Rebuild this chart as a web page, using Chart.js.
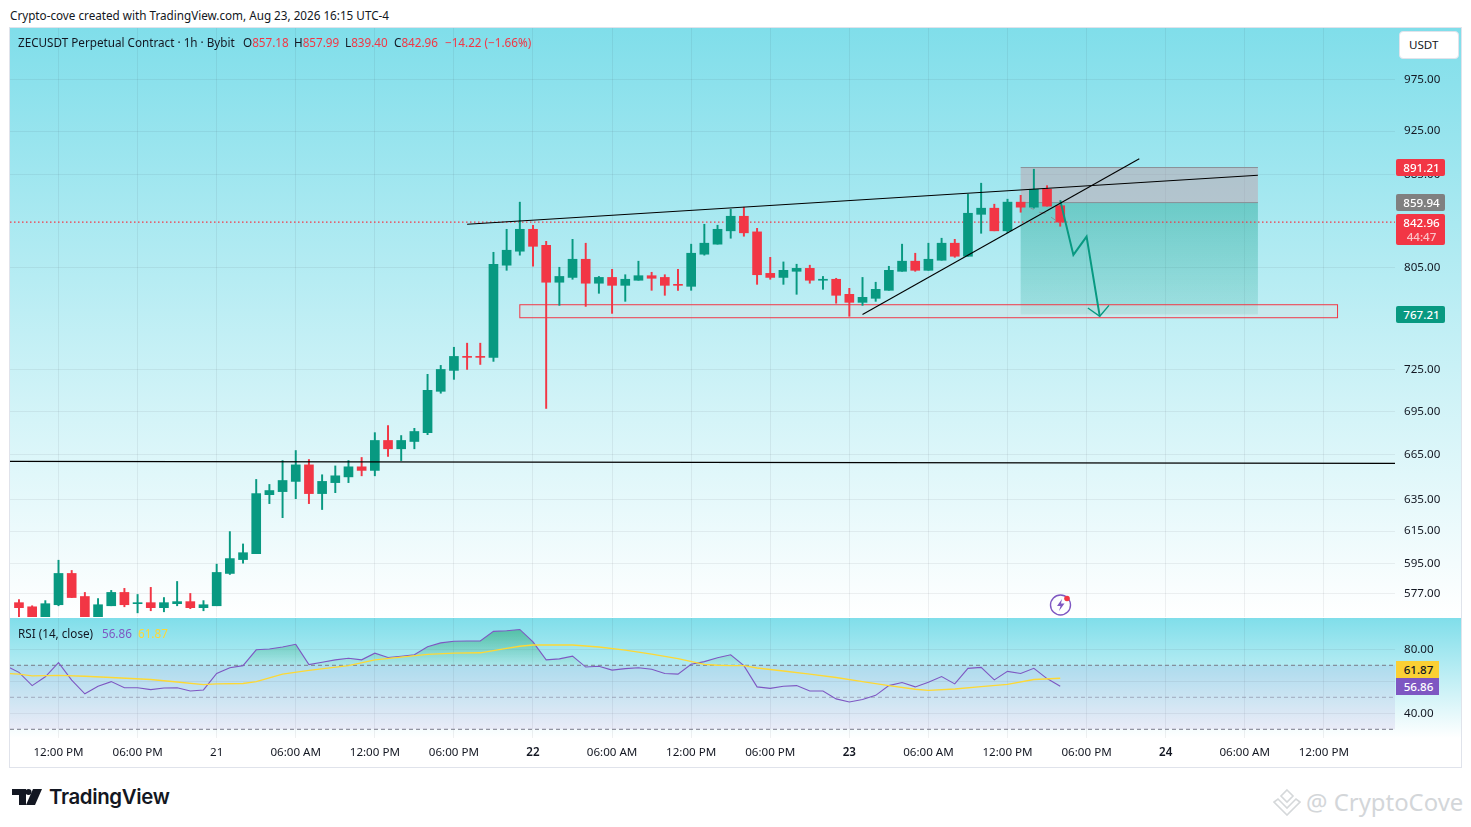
<!DOCTYPE html>
<html>
<head>
<meta charset="utf-8">
<title>ZECUSDT</title>
<script src="https://cdn.jsdelivr.net/npm/chart.js@4/dist/chart.umd.min.js"></script>
<style>
  html, body { margin: 0; background: #fff; }
  body { width: 1471px; height: 827px; position: relative; overflow: hidden; font-family: "Noto Sans", sans-serif; color: #131722; }
  .abs { position: absolute; white-space: nowrap; }
  .txt { font-size: 11.7px; line-height: 16px; }
  #frame { position: absolute; left: 9px; top: 27px; width: 1451px; height: 739px; border: 1px solid #e0e3eb; }
  #mainBg { position: absolute; left: 10px; top: 28px; width: 1451px; height: 589px; background: linear-gradient(#80deea, #fff); }
  #rsiBg { position: absolute; left: 10px; top: 618px; width: 1451px; height: 120px; background: linear-gradient(#80deea, #fff); }
  canvas { position: absolute; left: 10px; }
  #priceChart { top: 28px; }
  #rsiChart { top: 618px; }
  .tag { position: absolute; left: 1396px; width: 47px; padding-left: 2px; text-align: center; color: #fff; font-size: 11.6px; font-weight: 500; border-radius: 2px; line-height: 17px; }
  .red { color: #f23645; }
</style>
</head>
<body>
<div id="frame"></div>
<div id="mainBg"></div>
<div id="rsiBg"></div>
<canvas id="priceChart" width="1451" height="589"></canvas>
<canvas id="rsiChart" width="1451" height="149"></canvas>

<div class="abs txt" style="left:10px;top:7px">Crypto-cove created with TradingView.com, Aug 23, 2026 16:15 UTC-4</div>
<div class="abs txt" style="left:18px;top:34px">ZECUSDT Perpetual Contract · 1h · Bybit</div>
<div class="abs txt" style="left:243px;top:34px">O<span class="red">857.18</span></div>
<div class="abs txt" style="left:294px;top:34px">H<span class="red">857.99</span></div>
<div class="abs txt" style="left:345px;top:34px">L<span class="red">839.40</span></div>
<div class="abs txt" style="left:394px;top:34px">C<span class="red">842.96</span></div>
<div class="abs txt red" style="left:445px;top:34px">−14.22 (−1.66%)</div>
<div class="abs txt" style="left:18px;top:625px">RSI (14, close)</div>
<div class="abs txt" style="left:102px;top:625px;color:#7e57c2">56.86</div>
<div class="abs txt" style="left:138px;top:625px;color:#fdd835">61.87</div>

<div class="abs" style="left:1399px;top:31px;width:49px;padding-left:9px;height:26px;background:#fff;border:1px solid #e0e3eb;border-radius:4px;font-size:11.6px;line-height:26px">USDT</div>

<div class="tag" style="top:159px;background:#f23645">891.21</div>
<div class="tag" style="top:194px;background:#808080">859.94</div>
<div class="tag" style="top:214px;background:#f23645;line-height:14px;padding-top:2px;height:29px">842.96<br><span style="opacity:.7">44:47</span></div>
<div class="tag" style="top:306px;background:#089981">767.21</div>
<div class="tag" style="top:661px;width:41px;background:#fbd034;color:#131722;border-radius:0">61.87</div>
<div class="tag" style="top:678px;width:41px;background:#7e57c2;border-radius:0">56.86</div>

<svg class="abs" style="left:1049px;top:593px" width="24" height="24" viewBox="0 0 24 24">
  <circle cx="11.5" cy="12" r="10" fill="none" stroke="#7e57c2" stroke-width="1.4"/>
  <path d="M13 6 L8 13 H11.5 L10 18 L15.5 10.5 H12 Z" fill="#7e57c2"/>
  <circle cx="18" cy="5.5" r="2.8" fill="#f23645"/>
</svg>

<svg class="abs" style="left:12px;top:789px" width="31" height="17" viewBox="0 0 31 17">
  <path d="M0 0 H14 V16 H7 V6 H0 Z M14 16 L21 0 H30 L23 16 Z" fill="#131722"/>
  <circle cx="16.5" cy="3" r="3" fill="#131722"/>
</svg>
<div class="abs" style="left:49px;top:783px;font-family:Inter,sans-serif;font-size:20.4px;font-weight:600;line-height:28px;letter-spacing:-.35px">TradingView</div>

<svg class="abs" style="left:1273px;top:788px" width="28" height="28" viewBox="0 0 28 28" fill="none" stroke="#d5d8da" stroke-width="1.6">
  <path d="M14 2 L20 8 L14 14 L8 8 Z M5 11 L10 16 L14 20 L18 16 L23 11 L27 14 L14 27 L1 14 Z"/>
</svg>
<div class="abs" style="left:1306px;top:785px;font-family:'Noto Sans',sans-serif;font-size:23.9px;line-height:34px;color:#d3d6d9">@ CryptoCove</div>

<script>
// hours counted from 12:00 PM on Aug 20, one candle per hour
const hours = [-3,-2,-1,0,1,2,3,4,5,6,7,8,9,10,11,12,13,14,15,16,17,18,19,20,21,22,23,24,25,26,27,28,29,30,31,32,33,34,35,36,37,38,39,40,41,42,43,44,45,46,47,48,49,50,51,52,53,54,55,56,57,58,59,60,61,62,63,64,65,66,67,68,69,70,71,72,73,74,75,76];
const opens = [571.7,569.3,561.5,570.5,589,575.3,561,569.9,577.7,571.1,571.7,568.8,571.1,572.3,568.8,569.9,589,597.4,601,638.3,640.3,647,658,639,646.2,650,656.7,654.3,674.6,668.9,673.9,680,709.3,724.6,735,735,734.3,806.7,818.3,836.8,823.2,792.8,796.7,811.6,792,796.7,790.3,794.4,798.1,796.7,791.1,789.5,815.8,824.2,835.5,848,834.6,800,796.7,801.7,804.1,794.4,795.2,783.1,776.7,779.9,786.3,801.7,810,802.5,810.8,825,814.1,849.7,855,835.5,860.3,855.9,871.7,857.18];
const highs = [573.5,569.9,572.9,597,590.8,577.7,574.1,578.9,580.1,576.5,580.7,574.7,584.2,577.1,572.9,594.6,614.7,607,648.3,645,660.9,667.7,661.6,651.4,657.3,660.9,663,680,685,678,683,721.7,728.3,741.9,745,745,817.4,836.8,860.3,840.3,826.6,805,828.3,825,797.5,803.3,798.9,810,800.9,798.9,803.3,824.2,841.1,840.3,854.1,855.9,837.6,813.2,809.4,807.5,806.7,797.5,796,787.9,796.7,792.8,805.8,824.2,816.6,825,829.2,828.3,867.2,877.1,858.5,862.9,866.3,889.7,874.9,857.99];
const lows = [563,561,561,569.9,574.7,560,560,569.9,569.3,565.8,567,566.4,569.9,568.2,567,569.9,588.4,595.2,601,632.5,623.5,635.7,632.5,628.7,639.6,646.2,650.7,650.7,663.7,660.9,668.9,678.6,707.9,718,725.3,729,731.3,802.5,815,805.8,697,774.3,795.2,773.5,783.9,768,777.5,794.4,786.3,782.3,786.3,786.3,815,824.2,829.2,830.9,791.1,795.2,791.1,783.1,792,787.1,776,765.7,774.3,777.5,786.3,801.7,801.7,802.5,810.8,813.2,814.1,833.4,835.5,833.8,851.5,855,856.8,839.4];
const closes = [568.8,561.5,571.1,589,574.7,561,570.5,577.7,570.5,571.7,568.8,571.7,572.3,568.8,570.5,589.6,598,601.6,639,641,647.6,658,639,647,650.7,656.7,654.3,674.6,668.9,674.6,680.8,710,725.3,735,734.3,734.3,807.5,819.1,836.8,822.4,792.8,797.5,811.6,792,796.7,790.3,795.2,798.1,796,790.3,790.3,816.6,825,836.8,848,833.8,798.9,796.7,802.5,804.1,794.4,795.2,782.3,776.7,780.7,787.1,802.5,810,802.5,811.6,825,814.1,850.6,855,835.5,860.3,855.9,871.7,856.8,842.96];

const priceTicks = [975, 925, 885, 805, 725, 695, 665, 635, 615, 595, 577];
const timeTicks = [0,6,12,18,24,30,36,42,48,54,60,66,72,78,84,90,96];
const timeLabels = ['12:00 PM','06:00 PM','21','06:00 AM','12:00 PM','06:00 PM','22','06:00 AM','12:00 PM','06:00 PM','23','06:00 AM','12:00 PM','06:00 PM','24','06:00 AM','12:00 PM'];

// RSI pane
const rsiHours = [-4,-3,-2,-1,0,1,2,3,4,5,6,7,8,9,10,11,12,13,14,15,16,17,18,19,20,21,22,23,24,25,26,27,28,29,30,31,32,33,34,35,36,37,38,39,40,41,42,43,44,45,46,47,48,49,50,51,52,53,54,55,56,57,58,59,60,61,62,63,64,65,66,67,68,69,70,71,72,73,74,75,76];
const rsiValues = [69.8,65.6,57.3,62.8,71.7,60.7,52.2,56.9,59.8,56,56,54.8,55.8,56,53.9,54.6,64.9,68.5,69.8,79.7,80.2,81.4,83.1,70.4,71.9,73.4,74.4,73.4,77.6,74.9,75.7,76.6,81.6,84,85,85.2,85.2,91.2,91.6,92.4,84.6,73.4,74,75.7,68.9,69.4,67,67.9,68.5,67.5,64.9,64.5,70.6,72.3,74.7,76.6,69.8,56.5,55.6,56.9,57.3,53.9,53.9,49,47.1,48.6,51.2,57.3,59.2,56.5,59.4,63,58.4,68.1,68.7,60.9,66.2,64.9,68.1,61.7,56.86];
const maHours = [-4,-3,-2,0,2,4,7,9,11,12,14,15,17,19,22,24,26,28,30,32,34,35,36,37,39,41,43,45,47,49,50,51,52,53,55,57,59,61,63,65,66,68,70,72,74,76];
const maValues = [64.9,64.5,63.4,63.7,63.2,62.4,61.1,59.6,57.9,58.4,58.6,59.8,64.5,66.8,69.8,73.4,75.1,76.8,77.6,77.8,80.6,81.9,82.7,82.7,82.7,81.4,79.5,77,74.2,70.6,70,69.8,69.8,68.3,66.4,64.5,62.4,59.8,57.3,55,54.3,55.2,56.7,58.1,61.1,61.87];
const rsiTicks = [80, 60, 40];
const rsiLabels = ['80.00', '', '40.00'];

// drawings on the price pane
const lastPrice = 842.96;
const levelPrices = [660.4, 659];
const resistanceHours = [31, 91];
const resistancePrices = [841.1, 884.3];
const supportHours = [61, 82];
const supportPrices = [767.2, 899.2];
const arrowHours = [76, 77, 78, 79];
const arrowPrices = [862, 815.2, 830.6, 765.7];
const arrowHeadHours = [78.1, 79, 79.7];
const arrowHeadPrices = [772.2, 765.7, 774.3];
const dashHours = [73.75, 74, 74.2, 74.4, 74.9, 75.1, 75.3, 75.65];
const dashPrices = [855, 854, null, 851.5, 850.6, null, 847.2, 844.6];
const zoneHours = [35, 97.04];
const zonePrices = [774.8, 764.6];
const positionHours = [73, 91];
const positionPrices = [891.21, 859.94, 767.21];

const UP = '#089981';
const DOWN = '#f23645';
const GRID = 'rgba(42,46,57,0.07)';
const X_MIN = -3.68;
const X_MAX = 101.40;
const TICK_SIZE = 11.6;

Chart.defaults.font.family = '"Noto Sans", sans-serif';
Chart.defaults.font.size = TICK_SIZE;
Chart.defaults.color = '#131722';

function lineSet(xs, ys, color, width, extra) {
    return Object.assign({
        type: 'line',
        data: xs.map((x, i) => ({ x: x, y: ys[i] })),
        borderColor: color,
        borderWidth: width,
        pointRadius: 0,
        tension: 0,
        fill: false,
        order: 0
    }, extra || {});
}

// the tick padding would otherwise eat into the plot height
function fitY(scale) {
    scale.width = 66;
    scale.paddingTop = 0;
    scale.paddingBottom = 0;
}

// zone and short position boxes, placed through the chart scales
const boxes = {
    id: 'boxes',
    beforeDatasetsDraw(chart) {
        const { ctx, scales: { x, y }, chartArea } = chart;
        ctx.save();
        ctx.beginPath();
        ctx.rect(chartArea.left, chartArea.top, chartArea.width, chartArea.height);
        ctx.clip();

        const px1 = x.getPixelForValue(positionHours[0]);
        const px2 = x.getPixelForValue(positionHours[1]);
        const top = y.getPixelForValue(positionPrices[0]);
        const mid = y.getPixelForValue(positionPrices[1]);
        const bot = y.getPixelForValue(positionPrices[2]);
        ctx.fillStyle = 'rgba(200,145,155,0.4)';
        ctx.fillRect(px1, top, px2 - px1, mid - top);
        const grad = ctx.createLinearGradient(0, mid, 0, bot);
        grad.addColorStop(0, 'rgba(8,153,129,0.37)');
        grad.addColorStop(1, 'rgba(8,153,129,0.16)');
        ctx.fillStyle = grad;
        ctx.fillRect(px1, mid, px2 - px1, bot - mid);
        ctx.strokeStyle = '#8a8f96';
        ctx.lineWidth = 1;
        ctx.beginPath();
        ctx.moveTo(px1, top); ctx.lineTo(px2, top);
        ctx.moveTo(px1, mid); ctx.lineTo(px2, mid);
        ctx.stroke();

        const zx1 = x.getPixelForValue(zoneHours[0]);
        const zx2 = x.getPixelForValue(zoneHours[1]);
        const zy1 = y.getPixelForValue(zonePrices[0]);
        const zy2 = y.getPixelForValue(zonePrices[1]);
        ctx.fillStyle = 'rgba(224,224,224,0.35)';
        ctx.fillRect(zx1, zy1, zx2 - zx1, zy2 - zy1);
        ctx.strokeStyle = DOWN;
        ctx.lineWidth = 1;
        ctx.strokeRect(zx1, zy1, zx2 - zx1, zy2 - zy1);
        ctx.restore();
    }
};

new Chart(document.getElementById('priceChart'), {
    type: 'bar',
    plugins: [boxes],
    data: {
        datasets: [
            {
                data: hours.map((h, i) => ({ x: h, y: [lows[i], highs[i]] })),
                backgroundColor: hours.map((h, i) => closes[i] >= opens[i] ? UP : DOWN),
                barThickness: 1.3,
                grouped: false,
                order: 3
            },
            {
                data: hours.map((h, i) => ({ x: h, y: [opens[i], closes[i]] })),
                backgroundColor: hours.map((h, i) => closes[i] >= opens[i] ? UP : DOWN),
                barThickness: 9,
                minBarLength: 1,
                grouped: false,
                order: 2
            },
            lineSet([X_MIN, X_MAX], [lastPrice, lastPrice], DOWN, 1.2, { borderDash: [1.5, 2.5], order: 4 }),
            lineSet([X_MIN, X_MAX], levelPrices, '#000', 1.2),
            lineSet(resistanceHours, resistancePrices, '#000', 1.1),
            lineSet(supportHours, supportPrices, '#000', 1.1),
            lineSet(dashHours, dashPrices, '#8a8f96', 1, { order: 1 }),
            lineSet(arrowHours, arrowPrices, UP, 2),
            lineSet(arrowHeadHours, arrowHeadPrices, UP, 1.4)
        ]
    },
    options: {
        responsive: false,
        animation: false,
        events: [],
        layout: { padding: 0, autoPadding: false },
        plugins: { legend: { display: false }, tooltip: { enabled: false } },
        scales: {
            x: {
                type: 'linear',
                min: X_MIN,
                max: X_MAX,
                offset: false,
                afterFit: scale => { scale.height = 0; },
                afterBuildTicks: scale => { scale.ticks = timeTicks.map(v => ({ value: v })); },
                grid: { color: GRID, offset: false, drawTicks: false },
                border: { display: false },
                ticks: { display: false }
            },
            y: {
                type: 'logarithmic',
                position: 'right',
                min: 563.4,
                max: 1027.6,
                afterFit: fitY,
                afterBuildTicks: scale => { scale.ticks = priceTicks.map(v => ({ value: v })); },
                grid: { color: GRID, drawTicks: false },
                border: { display: false },
                ticks: { padding: 9, autoSkip: false, callback: v => Number(v).toFixed(2) }
            }
        }
    }
});

const rsiCanvas = document.getElementById('rsiChart');
const greenFill = rsiCanvas.getContext('2d').createLinearGradient(0, 12, 0, 47);
greenFill.addColorStop(0, 'rgba(30,160,100,0.5)');
greenFill.addColorStop(1, 'rgba(30,160,100,0.05)');

new Chart(rsiCanvas, {
    type: 'line',
    data: {
        datasets: [
            lineSet([X_MIN, X_MAX], [70, 70], '#787b86', 1, {
                borderDash: [4, 3],
                fill: { target: { value: 30 } },
                backgroundColor: 'rgba(126,87,194,0.1)',
                order: 5
            }),
            lineSet([X_MIN, X_MAX], [50, 50], 'rgba(120,123,134,0.55)', 1, { borderDash: [4, 3], order: 5 }),
            lineSet([X_MIN, X_MAX], [30, 30], '#787b86', 1, { borderDash: [4, 3], order: 5 }),
            lineSet(rsiHours, rsiValues, '#7e57c2', 1.1, {
                fill: { target: { value: 70 }, above: greenFill, below: 'rgba(0,0,0,0)' },
                order: 1
            }),
            lineSet(maHours, maValues, '#fdd835', 1.4, { order: 0 })
        ]
    },
    options: {
        responsive: false,
        animation: false,
        events: [],
        layout: { padding: 0, autoPadding: false },
        plugins: { legend: { display: false }, tooltip: { enabled: false } },
        scales: {
            x: {
                type: 'linear',
                min: X_MIN,
                max: X_MAX,
                afterFit: scale => { scale.height = 29; },
                afterBuildTicks: scale => { scale.ticks = timeTicks.map(v => ({ value: v })); },
                grid: { color: GRID, drawTicks: false },
                border: { display: false },
                ticks: {
                    padding: 8,
                    autoSkip: false,
                    maxRotation: 0,
                    callback: v => timeLabels[timeTicks.indexOf(v)],
                    font: ctx => ({ weight: ctx.tick && ['22', '23', '24'].includes(timeLabels[timeTicks.indexOf(ctx.tick.value)]) ? '600' : '400' })
                }
            },
            y: {
                position: 'right',
                min: 24.56,
                max: 99.56,
                afterFit: fitY,
                afterBuildTicks: scale => { scale.ticks = rsiTicks.map(v => ({ value: v })); },
                grid: { color: GRID, drawTicks: false },
                border: { display: false },
                ticks: { padding: 9, autoSkip: false, callback: v => rsiLabels[rsiTicks.indexOf(v)] }
            }
        }
    }
});
</script>
</body>
</html>
